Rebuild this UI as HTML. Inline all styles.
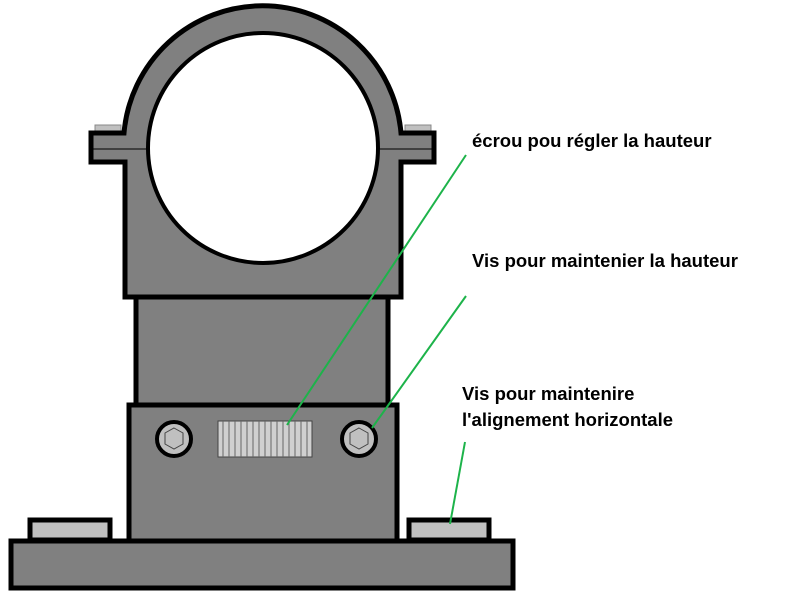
<!DOCTYPE html>
<html><head><style>body{margin:0;background:#fff}svg{display:block}</style></head><body>
<svg width="788" height="600" xmlns="http://www.w3.org/2000/svg">
<g stroke="#000" stroke-width="5" fill="#808080">
<rect x="95" y="125" width="26" height="8" fill="#c0c0c0" stroke="#888" stroke-width="1"/>
<rect x="405" y="125" width="26" height="8" fill="#c0c0c0" stroke="#888" stroke-width="1"/>
<rect x="136" y="290" width="252" height="115"/>
<path d="M124,133 A139,139 0 0 1 401,133 L434,133 L434,162 L401,162 L401,297 L125,297 L125,162 L91,162 L91,133 Z"/>
<line x1="91" y1="149" x2="150" y2="149" stroke-width="1"/>
<line x1="376" y1="149" x2="434" y2="149" stroke-width="1"/>
<ellipse cx="263" cy="148" rx="115" ry="115" fill="#fff" stroke-width="4"/>
<rect x="129" y="405" width="268" height="137"/>
<rect x="30" y="520" width="80" height="20" fill="#c0c0c0"/>
<rect x="409" y="520" width="80" height="20" fill="#c0c0c0"/>
<rect x="11" y="541" width="502" height="47"/>
<circle cx="174" cy="439" r="17" fill="#c0c0c0" stroke-width="4"/>
<circle cx="359" cy="439" r="17" fill="#c0c0c0" stroke-width="4"/>
</g>
<g fill="none" stroke="#444" stroke-width="1">
<polygon points="174,428 183,433 183,444 174,449 165,444 165,433"/>
<polygon points="359,428 368,433 368,444 359,449 350,444 350,433"/>
</g>
<rect x="218" y="421" width="94" height="36" fill="#d0d0d0" stroke="#444" stroke-width="1"/>
<g stroke="#666" stroke-width="1">
<line x1="223" y1="421" x2="223" y2="457"/><line x1="229" y1="421" x2="229" y2="457"/><line x1="235" y1="421" x2="235" y2="457"/><line x1="241" y1="421" x2="241" y2="457"/><line x1="247" y1="421" x2="247" y2="457"/><line x1="253" y1="421" x2="253" y2="457"/><line x1="259" y1="421" x2="259" y2="457"/><line x1="265" y1="421" x2="265" y2="457"/><line x1="271" y1="421" x2="271" y2="457"/><line x1="277" y1="421" x2="277" y2="457"/><line x1="283" y1="421" x2="283" y2="457"/><line x1="289" y1="421" x2="289" y2="457"/><line x1="295" y1="421" x2="295" y2="457"/><line x1="301" y1="421" x2="301" y2="457"/><line x1="307" y1="421" x2="307" y2="457"/>
</g>
<g stroke="#1db34a" stroke-width="2">
<line x1="466" y1="155" x2="287" y2="425"/>
<line x1="466" y1="296" x2="372" y2="428"/>
<line x1="465" y1="442" x2="450" y2="524"/>
</g>
<g font-family="Liberation Sans, sans-serif" font-weight="bold" font-size="18.5" fill="#000">
<text x="472" y="147">écrou pou régler la hauteur</text>
<text x="472" y="267">Vis pour maintenier la hauteur</text>
<text x="462" y="400">Vis pour maintenire</text>
<text x="462" y="426">l'alignement horizontale</text>
</g>
</svg>
</body></html>
